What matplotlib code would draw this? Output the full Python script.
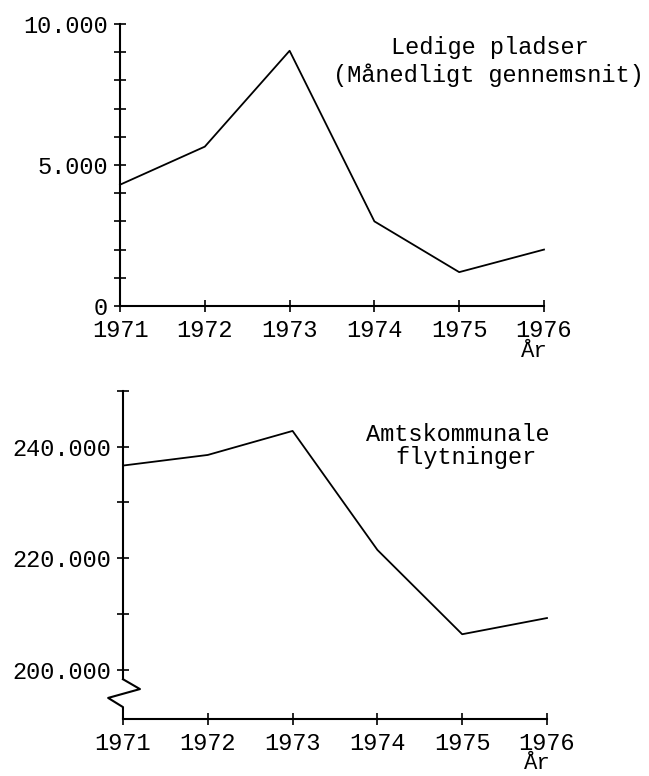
import matplotlib
matplotlib.use("Agg")
import matplotlib.pyplot as plt
import matplotlib.transforms as mtransforms

plt.rcParams['font.family'] = ['Liberation Mono', 'DejaVu Sans Mono']

# Data
years = [1971, 1972, 1973, 1974, 1975, 1976]
ledige = [4300, 5650, 9050, 3000, 1200, 2000]
flytninger = [236600, 238500, 242800, 221500, 206400, 209300]

top_ticks = [0, 5000, 10000]
top_minor = [1000, 2000, 3000, 4000, 6000, 7000, 8000, 9000]
top_labels = ["0", "5.000", "10.000"]
bot_ticks = [200000, 220000, 240000]
bot_minor = [210000, 230000, 250000]
bot_labels = ["200.000", "220.000", "240.000"]
year_labels = [str(y) for y in years]

FS = 17
LW = 1.3

fig = plt.figure(figsize=(6.49, 7.76), dpi=100)
ax1 = fig.add_axes([0.1849, 0.6057, 0.6533, 0.3634])
ax2 = fig.add_axes([0.1895, 0.0740, 0.6533, 0.4225])


def style(ax, ymin):
    for s in ["top", "right"]:
        ax.spines[s].set_visible(False)
    for s in ["left", "bottom"]:
        ax.spines[s].set_linewidth(1.5)
    ax.set_xlim(years[0], years[-1])
    ax.set_xticks(years)
    ax.set_xticklabels(year_labels, fontsize=FS)
    ax.tick_params(axis="both", which="both", direction="inout", width=1.2, length=9)
    ax.tick_params(axis="x", pad=5)
    ax.tick_params(axis="y", pad=4, labelsize=FS)
    ax.patch.set_visible(False)
    # axis unit under the last year
    ax.annotate("År", xy=(years[-1], ymin), xycoords="data",
                xytext=(-7, -36.5), textcoords="offset points",
                ha="center", va="baseline", fontsize=16, annotation_clip=False)


# --- top panel ---
ax1.plot(years, ledige, color="black", lw=LW, clip_on=False)
ax1.set_ylim(0, 10000)
style(ax1, 0)
ax1.set_yticks(top_ticks)
ax1.set_yticklabels(top_labels)
ax1.set_yticks(top_minor, minor=True)
ax1.text(0.872, 0.915, "Ledige pladser", transform=ax1.transAxes,
         ha="center", va="center", fontsize=FS)
ax1.text(0.870, 0.820, "(Månedligt gennemsnit)", transform=ax1.transAxes,
         ha="center", va="center", fontsize=FS)

# --- bottom panel ---
ax2.plot(years, flytninger, color="black", lw=LW, clip_on=False)
ymin, ymax = 191300, 250000
ax2.set_ylim(ymin, ymax)
style(ax2, ymin)
ax2.set_yticks(bot_ticks)
ax2.set_yticklabels(bot_labels)
ax2.set_yticks(bot_minor, minor=True)
ax2.spines["left"].set_visible(False)

# left axis with a zigzag break near the bottom
trans = mtransforms.blended_transform_factory(ax2.transAxes, ax2.transData)
span = ymax - ymin
b_top = ymin + 0.12 * span
b_mid1 = ymin + 0.09 * span
b_mid2 = ymin + 0.063 * span
b_low = ymin + 0.035 * span
ax2.plot([0, 0], [b_top, ymax], color="black", lw=1.5, transform=trans, clip_on=False)
ax2.plot([0, 0.04, -0.035, 0, 0], [b_top, b_mid1, b_mid2, b_low, ymin],
         color="black", lw=1.5, transform=trans, clip_on=False)

ax2.text(0.790, 0.866, "Amtskommunale", transform=ax2.transAxes,
         ha="center", va="center", fontsize=FS)
ax2.text(0.809, 0.797, "flytninger", transform=ax2.transAxes,
         ha="center", va="center", fontsize=FS)

fig.savefig("out.png", dpi=100, facecolor="white")
